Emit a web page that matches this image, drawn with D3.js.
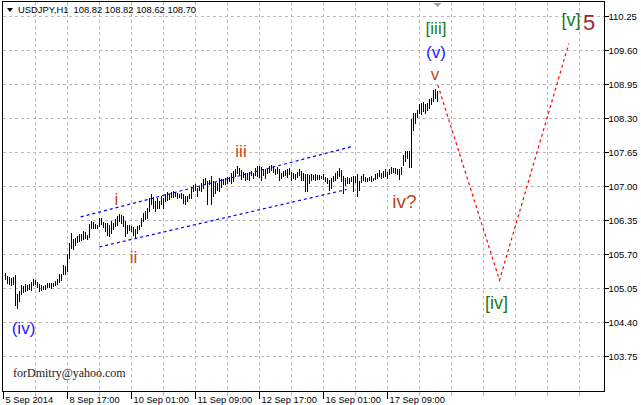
<!DOCTYPE html>
<html><head><meta charset="utf-8">
<script src="https://cdn.jsdelivr.net/npm/d3@7"></script>
<style>body{margin:0;background:#fff}svg{display:block}</style>
</head><body><svg id="c" width="641" height="405"></svg>
<script>
const symbol = "USDJPY,H1";
const lastOHLC = ["108.82", "108.82", "108.62", "108.70"];
const highs = [
105.33,105.28,105.26,105.24,105.26,105.29,104.93,104.99,105.10,105.08,
105.12,105.10,105.13,105.17,105.23,105.21,105.17,105.12,105.10,105.08,
105.10,105.15,105.15,105.15,105.15,105.19,105.23,105.31,105.32,105.49,
105.47,105.70,105.91,106.10,105.98,106.01,106.04,106.09,106.09,106.14,
106.12,106.07,106.28,106.34,106.32,106.28,106.26,106.39,106.38,106.32,
106.30,106.30,106.26,106.33,106.30,106.36,106.42,106.47,106.45,106.42,
106.33,106.26,106.25,106.23,106.21,106.17,106.23,106.26,106.39,106.49,
106.52,106.58,106.77,106.85,106.79,106.72,106.77,106.71,106.80,106.77,
106.85,106.89,106.85,106.89,106.91,106.89,106.87,106.85,106.87,106.84,
106.80,106.80,106.85,106.98,107.01,107.03,106.97,107.00,107.06,107.14,
107.16,107.09,107.12,107.20,107.09,107.07,107.06,107.16,107.14,107.14,
107.16,107.17,107.17,107.25,107.28,107.32,107.38,107.35,107.30,107.27,
107.25,107.25,107.27,107.28,107.25,107.35,107.38,107.38,107.36,107.32,
107.33,107.35,107.38,107.40,107.38,107.33,107.36,107.33,107.25,107.28,
107.30,107.32,107.35,107.27,107.25,107.23,107.27,107.32,107.28,107.25,
107.23,107.22,107.21,107.23,107.21,107.22,107.21,107.21,107.20,107.22,
107.18,107.16,107.12,107.16,107.19,107.25,107.28,107.35,107.30,107.19,
107.16,107.18,107.16,107.18,107.20,107.19,107.22,107.09,107.19,107.22,
107.18,107.16,107.18,107.19,107.16,107.22,107.25,107.30,107.25,107.28,
107.32,107.26,107.33,107.37,107.35,107.35,107.33,107.32,107.37,107.60,
107.66,107.66,107.66,108.28,108.40,108.40,108.46,108.56,108.59,108.60,
108.56,108.59,108.67,108.69,108.84,108.86,108.82];
const lows = [
105.23,105.15,105.12,105.10,105.12,104.73,104.67,104.81,104.93,104.98,
105.00,105.02,105.04,105.02,105.10,105.12,105.06,104.99,105.02,105.03,
105.03,105.06,105.06,105.05,105.08,105.10,105.13,105.17,105.21,105.31,
105.32,105.38,105.63,105.82,105.80,105.88,105.93,105.94,105.96,105.98,
106.00,105.98,106.02,106.20,106.20,106.19,106.19,106.23,106.28,106.21,
106.14,106.07,106.04,106.10,106.17,106.23,106.26,106.33,106.30,106.23,
106.04,106.10,106.15,106.14,106.07,106.02,106.10,106.17,106.23,106.33,
106.36,106.39,106.52,106.65,106.58,106.53,106.58,106.58,106.65,106.58,
106.71,106.74,106.76,106.79,106.79,106.80,106.77,106.79,106.77,106.68,
106.65,106.72,106.77,106.77,106.90,106.93,106.80,106.93,106.91,106.97,
107.04,106.65,107.03,106.65,106.80,106.86,106.93,106.91,106.98,107.03,
107.04,107.06,107.09,107.06,107.10,107.19,107.25,107.22,107.14,107.17,
107.12,107.14,107.12,107.21,107.16,107.21,107.19,107.17,107.12,107.21,
107.16,107.25,107.27,107.30,107.27,107.22,107.25,107.12,107.16,107.19,
107.21,107.17,107.22,107.12,107.16,107.14,107.17,107.21,107.12,107.12,
106.91,106.91,107.06,107.12,107.14,107.12,107.14,107.14,107.15,107.14,
107.09,107.06,106.93,106.97,107.09,107.12,107.16,107.19,107.09,106.87,
107.01,107.05,107.05,107.09,106.91,107.07,106.80,106.93,107.07,107.12,
107.09,107.09,107.11,107.09,107.11,107.14,107.16,107.19,107.16,107.18,
107.19,107.16,107.22,107.25,107.26,107.24,107.22,107.14,107.22,107.41,
107.47,107.54,107.37,107.37,108.07,108.21,108.32,108.40,108.37,108.43,
108.40,108.46,108.49,108.56,108.62,108.69,108.62];
const priceTicks = [110.25, 109.60, 108.95, 108.30, 107.65, 107.00, 106.35, 105.70, 105.05, 104.40, 103.75];
const timeLabels = ["5 Sep 2014", "8 Sep 17:00", "10 Sep 01:00", "11 Sep 09:00", "12 Sep 17:00", "16 Sep 01:00", "17 Sep 09:00"];
const timeLabelIdx = [-1, 31, 63, 95, 127, 159, 191];
const gridIdx = [15, 31, 47, 63, 79, 95, 111, 127, 143, 159, 175, 191, 207, 223, 239, 255, 271, 287];
const upperChannel = [[37.6, 106.42], [174.0, 107.77]];
const lowerChannel = [[46.9, 105.845], [170.6, 106.943]];
const projection = [[216.15, 108.94], [247.0, 105.21], [281.65, 109.73]];
const waveText  = ["(iv)", "i", "ii", "iii", "iv?", "v", "(v)", "[iii]", "[iv]", "[v]", "5"];
const waveIdx   = [9.0, 55.5, 64.0, 117.75, 199.5, 214.75, 215.25, 215.25, 245.5, 282.75, 291.75];
const wavePrice = [104.18, 106.646, 105.54, 107.564, 106.589, 109.036, 109.456, 109.925, 104.658, 110.059, 109.992];
const waveColor = ["#1a1aff", "#c4461e", "#c4461e", "#c4461e", "#b8441e", "#c4461e", "#1a1aff", "#1a7a1a", "#1a7a1a", "#1a7a1a", "#a0282a"];
const waveSize  = [17, 17, 17, 17, 19, 17, 17, 17, 18, 18, 22];

const svg = d3.select("#c");
const pL = 2.5, pR = 604.5, pT = 1.5, pB = 391.5;
const x = d3.scaleLinear().domain([0, 300]).range([5.5, 605.5]);
const y = d3.scaleLinear().domain([103.75, 110.25]).range([356.5, 16.5]);
const grid = "#b9b9b9";
const font = "'Liberation Sans', Arial, sans-serif";

svg.append("rect").attr("width", 641).attr("height", 405).attr("fill", "#fff");

// grid
const g = svg.append("g").attr("shape-rendering", "crispEdges");
g.selectAll(".hg").data(priceTicks).join("line")
  .attr("x1", pL).attr("x2", pR).attr("y1", d => y(d)).attr("y2", d => y(d))
  .attr("stroke", grid).attr("stroke-dasharray", "3,3");
g.selectAll(".vg").data(gridIdx).join("line")
  .attr("x1", d => x(d)).attr("x2", d => x(d)).attr("y1", pT).attr("y2", pB)
  .attr("stroke", grid).attr("stroke-dasharray", "3,3");

// bars
svg.append("g").attr("shape-rendering", "crispEdges").selectAll("line").data(highs).join("line")
  .attr("x1", (d, i) => x(i)).attr("x2", (d, i) => x(i))
  .attr("y1", d => y(d) - 0.5).attr("y2", (d, i) => Math.max(y(lows[i]) + 0.5, y(d) + 1.5))
  .attr("stroke", "#000").attr("stroke-width", 1);

// channel lines
const line = d3.line().x(d => x(d[0])).y(d => y(d[1]));
[upperChannel, lowerChannel].forEach(c => svg.append("path").attr("d", line(c))
  .attr("fill", "none").attr("stroke", "#0000ff").attr("stroke-width", 1.2).attr("stroke-dasharray", "3,3"));
svg.append("path").attr("d", line(projection)).attr("fill", "none")
  .attr("stroke", "#ff0000").attr("stroke-width", 1.2).attr("stroke-dasharray", "3,3");

// wave labels
svg.append("g").selectAll("text").data(waveText).join("text")
  .attr("x", (d, i) => x(waveIdx[i])).attr("y", (d, i) => y(wavePrice[i]))
  .attr("text-anchor", "middle").attr("font-family", font)
  .attr("font-size", (d, i) => waveSize[i]).attr("fill", (d, i) => waveColor[i])
  .text(d => d);

// frame
const f = svg.append("g").attr("shape-rendering", "crispEdges");
f.append("rect").attr("x", pL).attr("y", pT).attr("width", pR - pL).attr("height", pB - pT)
  .attr("fill", "none").attr("stroke", "#000");

// y axis
const ya = svg.append("g");
ya.selectAll("line").data(priceTicks).join("line").attr("shape-rendering", "crispEdges")
  .attr("x1", pR).attr("x2", pR + 4).attr("y1", d => y(d)).attr("y2", d => y(d)).attr("stroke", "#000");
ya.selectAll("text").data(priceTicks).join("text")
  .attr("x", pR + 4).attr("y", d => y(d) + 3.5)
  .attr("font-family", font).attr("font-size", 9.5).attr("fill", "#000")
  .text(d => d.toFixed(2));

// x axis
const xa = svg.append("g");
xa.selectAll(".mt").data(gridIdx).join("line").attr("shape-rendering", "crispEdges")
  .attr("x1", d => x(d)).attr("x2", d => x(d)).attr("y1", pB).attr("y2", pB + 4)
  .attr("stroke", grid);
xa.selectAll(".Mt").data(timeLabelIdx).join("line").attr("shape-rendering", "crispEdges")
  .attr("x1", d => Math.max(x(d), pL)).attr("x2", d => Math.max(x(d), pL))
  .attr("y1", pB).attr("y2", pB + 7).attr("stroke", "#000");
xa.selectAll("text").data(timeLabels).join("text")
  .attr("x", (d, i) => Math.max(x(timeLabelIdx[i]), pL) + 2).attr("y", 403)
  .attr("font-family", font).attr("font-size", 9.3).attr("fill", "#000")
  .text(d => d);

// header
svg.append("path").attr("d", "M7,8 L13,8 L10,12 Z").attr("fill", "#000");
svg.append("text").attr("x", 18).attr("y", 13).attr("font-family", font).attr("font-size", 9.4)
  .attr("fill", "#000").attr("xml:space", "preserve")
  .text(symbol + "  " + lastOHLC.join(" "));

// shift marker
svg.append("path").attr("d", `M${x(216) - 4},3 L${x(216) + 4},3 L${x(216)},7 Z`).attr("fill", "#a0a0a0");

// watermark
svg.append("text").attr("x", 13).attr("y", 377).attr("font-family", "'Liberation Serif', 'Times New Roman', serif")
  .attr("font-size", 12).attr("fill", "#222").text("forDmitry@yahoo.com");
</script></body></html>
